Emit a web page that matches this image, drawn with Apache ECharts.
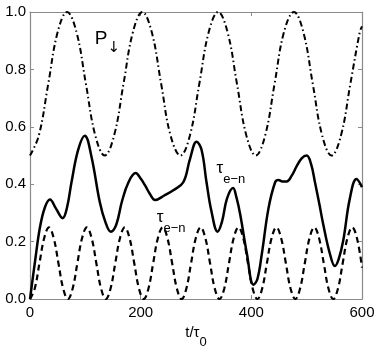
<!DOCTYPE html>
<html>
<head>
<meta charset="utf-8">
<script src="https://cdn.jsdelivr.net/npm/echarts@6/dist/echarts.min.js"></script>
<style>
  html, body { margin: 0; padding: 0; background: #fff; }
  #main { width: 382px; height: 354px; }
</style>
</head>
<body>
<div id="main"></div>
<script>
// P_down (dash-dot)
var pT = [0, 16, 33, 50, 67, 84, 101, 118, 135, 152, 169, 186, 203, 220, 237, 254, 272, 289, 306, 323,
  340, 357, 374, 391, 408, 425, 442, 459, 477, 494, 511, 528, 545, 562, 579, 596, 600];
var pV = [0.50, 0.57, 0.75, 0.93, 1.0, 0.93, 0.75, 0.57, 0.50, 0.57, 0.75, 0.93, 1.0, 0.93, 0.75, 0.57, 0.50, 0.57, 0.75, 0.93,
  1.0, 0.93, 0.75, 0.57, 0.50, 0.57, 0.75, 0.93, 1.0, 0.93, 0.75, 0.57, 0.50, 0.57, 0.75, 0.93, 0.95];

// tau_e-n dashed
var dashT = [0, 8.6, 17.1, 25.7, 34.3, 42.8, 51.4, 59.9, 68.5, 77.1, 85.6, 94.2, 102.8, 111.3, 119.9, 128.4,
  137, 145.6, 154.1, 162.7, 171.3, 179.8, 188.4, 196.9, 205.5, 214.1, 222.6, 231.2, 239.8, 248.3, 256.9, 265.4,
  274, 282.6, 291.1, 299.7, 308.3, 316.8, 325.4, 333.9, 342.5, 351.1, 359.6, 368.2, 376.8, 385.3, 393.9, 402.4,
  411, 419.6, 428.1, 436.7, 445.3, 453.8, 462.4, 470.9, 479.5, 488.1, 496.6, 505.2, 513.8, 522.3, 530.9, 539.4,
  548, 556.6, 565.1, 573.7, 582.3, 590.8, 600];
var dashV = [0, 0.037, 0.125, 0.213, 0.25, 0.213, 0.125, 0.037, 0, 0.037, 0.125, 0.213, 0.25, 0.213, 0.125, 0.037,
  0, 0.037, 0.125, 0.213, 0.25, 0.213, 0.125, 0.037, 0, 0.037, 0.125, 0.213, 0.25, 0.213, 0.125, 0.037,
  0, 0.037, 0.125, 0.213, 0.25, 0.213, 0.125, 0.037, 0, 0.037, 0.125, 0.213, 0.25, 0.213, 0.125, 0.037,
  0, 0.037, 0.125, 0.213, 0.25, 0.213, 0.125, 0.037, 0, 0.037, 0.125, 0.213, 0.25, 0.213, 0.125, 0.037,
  0, 0.037, 0.125, 0.213, 0.25, 0.213, 0.11];

// tau_e-n solid
var solidT = [0, 9, 18, 27, 36, 47, 59, 67, 75, 87, 99, 111, 126, 136, 146, 156, 166, 178, 191, 200,
  208, 217, 226, 242, 259, 277, 289, 301, 310, 319, 328, 339, 347, 356, 367, 373, 380, 392, 404, 411,
  419, 431, 443, 449, 456, 464, 473, 482, 491, 500, 508, 515, 523, 530, 542, 551, 558, 566, 578, 590, 600];
var solidV = [0, 0.13, 0.25, 0.32, 0.347, 0.315, 0.282, 0.32, 0.407, 0.52, 0.569, 0.497, 0.339, 0.27, 0.235, 0.26, 0.339, 0.407, 0.439, 0.42,
  0.396, 0.365, 0.345, 0.36, 0.379, 0.407, 0.487, 0.548, 0.52, 0.407, 0.305, 0.235, 0.27, 0.35, 0.387, 0.355, 0.294, 0.158, 0.05, 0.07,
  0.158, 0.316, 0.407, 0.415, 0.41, 0.41, 0.43, 0.463, 0.49, 0.50, 0.47, 0.407, 0.33, 0.26, 0.158, 0.115, 0.14, 0.203, 0.35, 0.418, 0.39];

// annotations: [t, v, kind]
var notes = [
  [117, 0.94, 'P'],
  [337, 0.485, 'tau'],
  [229, 0.315, 'tau']
];

function pairs(xs, ys) {
  return xs.map(function (x, i) { return [x, ys[i]]; });
}

var FONT = 'Liberation Sans, Arial, sans-serif';
var GREY = '#8a8a8a';

var dom = document.getElementById('main');
var myChart = echarts.init(dom, null, { renderer: 'canvas' });

var axisCommon = {
  axisLine: { show: true, onZero: false, lineStyle: { color: GREY, width: 1.2 } },
  axisTick: { show: true, inside: true, length: 4, lineStyle: { color: GREY } },
  splitLine: { show: false }
};

var option = {
  animation: false,
  backgroundColor: '#fff',
  grid: { left: 30, right: 20, top: 12, bottom: 47.5 },
  xAxis: [
    Object.assign({
      type: 'value', min: 0, max: 600, interval: 200, position: 'bottom',
      axisLabel: { color: '#000', fontSize: 15, fontFamily: FONT, margin: 6 },
      name: '{a|t/τ}{b|0}',
      nameLocation: 'middle',
      nameGap: 24,
      nameTextStyle: {
        rich: {
          a: { fontSize: 15, fontFamily: FONT, color: '#000', lineHeight: 24, verticalAlign: 'top' },
          b: { fontSize: 13, fontFamily: FONT, color: '#000', lineHeight: 24, verticalAlign: 'bottom' }
        }
      }
    }, axisCommon),
    Object.assign({
      type: 'value', min: 0, max: 600, interval: 200, position: 'top',
      axisLabel: { show: false }
    }, axisCommon)
  ],
  yAxis: [
    Object.assign({
      type: 'value', min: 0, max: 1, interval: 0.2, position: 'left',
      axisLabel: {
        color: '#000', fontSize: 15, fontFamily: FONT, margin: 4,
        formatter: function (v) { return v.toFixed(1); }
      }
    }, axisCommon),
    Object.assign({
      type: 'value', min: 0, max: 1, interval: 0.2, position: 'right',
      axisLabel: { show: false }
    }, axisCommon)
  ],
  series: [
    {
      type: 'line', data: pairs(pT, pV), smooth: 0.4, showSymbol: false,
      lineStyle: { color: '#000', width: 2, type: [6, 3, 1.5, 3] }
    },
    {
      type: 'line', data: pairs(dashT, dashV), smooth: 0.4, showSymbol: false,
      lineStyle: { color: '#000', width: 2.2, type: [6, 4] }
    },
    {
      type: 'line', data: pairs(solidT, solidV), smooth: 0.4, showSymbol: false,
      lineStyle: { color: '#000', width: 2.5 }
    }
  ]
};

myChart.setOption(option);

var graphics = notes.map(function (n) {
  var p = myChart.convertToPixel({ xAxisIndex: 0, yAxisIndex: 0 }, [n[0], n[1]]);
  var isP = n[2] === 'P';
  var txt = isP ? '{m|P}{s|↓}' : '{m|τ}{s|e−n}';
  return {
    type: 'text', x: p[0], y: p[1], z: 10,
    style: {
      text: txt,
      rich: {
        m: { fontSize: isP ? 19 : 17, fontFamily: FONT, fill: '#000', lineHeight: 26, verticalAlign: 'top' },
        s: {
          fontSize: isP ? 15 : 13,
          fontFamily: isP ? 'DejaVu Sans, sans-serif' : FONT,
          fill: '#000', lineHeight: 26, verticalAlign: 'bottom'
        }
      }
    }
  };
});
myChart.setOption({ graphic: graphics });

window.addEventListener('resize', function () {
  myChart.resize();
});
</script>
</body>
</html>
